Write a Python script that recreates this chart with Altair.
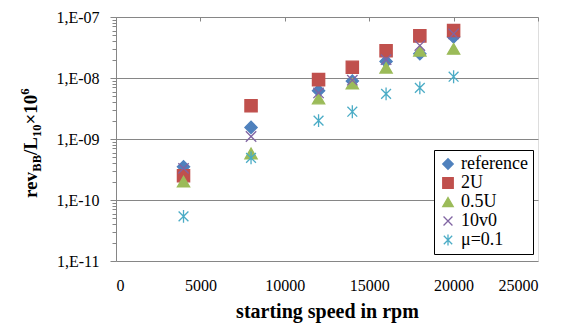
import altair as alt
import pandas as pd

speeds = [4000, 8000, 12000, 14000, 16000, 18000, 20000]
series_names = ["reference", "2U", "0.5U", "10v0", "μ=0.1"]
reference = [3.5e-10, 1.55e-9, 6.2e-9, 8.9e-9, 1.87e-8, 2.5e-8, 4.7e-8]
u2 = [2.5e-10, 3.5e-9, 9.4e-9, 1.5e-8, 2.8e-8, 4.9e-8, 6.0e-8]
u05 = [2.0e-10, 5.8e-10, 4.6e-9, 8.1e-9, 1.47e-8, 2.8e-8, 3.0e-8]
v10 = [3.3e-10, 1.1e-9, 5.7e-9, 9.2e-9, 2.0e-8, 3.4e-8, 5.3e-8]
mu01 = [5.4e-11, 4.9e-10, 2.0e-9, 2.8e-9, 5.5e-9, 6.9e-9, 1.05e-8]

x_ticks = [0, 5000, 10000, 15000, 20000, 25000]
y_decades = [1e-11, 1e-10, 1e-9, 1e-8, 1e-7]
y_minor_mult = [2, 3, 4, 5, 6, 7, 8, 9]

colors = ["#4F81BD", "#C0504D", "#9BBB59", "#8064A2", "#4BACC6"]
fills = ["#4F81BD", "#C0504D", "#9BBB59", "transparent", "transparent"]
shapes = ["diamond", "square", "triangle-up",
          "M-0.85,-0.85L0.85,0.85M0.85,-0.85L-0.85,0.85",
          "M-0.8,-0.8L0.8,0.8M0.8,-0.8L-0.8,0.8M0,-1.05L0,1.05"]

rows = []
for name, vals in zip(series_names, [reference, u2, u05, v10, mu01]):
    for s, v in zip(speeds, vals):
        rows.append({"speed": s, "value": v, "series": name})
df = pd.DataFrame(rows)

y_vals = []
for d in y_decades:
    y_vals.append(d)
    if d < 1e-7:
        y_vals += [d * m for m in y_minor_mult]

FONT = "Liberation Serif"
GRAY = "#868686"
major_test = "abs(log(datum.value)/LN10 - round(log(datum.value)/LN10)) < 0.001"

xscale = alt.Scale(domain=[0, 25000], nice=False, zero=False)
yscale = alt.Scale(type="log", domain=[1e-11, 1e-7], nice=False)

y_axis = alt.Axis(orient="left", values=y_vals, title=None,
                  domainColor=GRAY, tickColor=GRAY, gridColor=GRAY,
                  tickSize={"condition": {"test": major_test, "value": 6}, "value": 4},
                  gridOpacity={"condition": {"test": major_test, "value": 1}, "value": 0},
                  labelExpr="(" + major_test + ") ? ('1,E-' + (round(-log(datum.value)/LN10) < 10 ? '0' : '') + round(-log(datum.value)/LN10)) : ''",
                  labelFont=FONT, labelFontSize=16, labelColor="black",
                  labelPadding=11, labelBaseline="middle")

def leg():
    return alt.Legend(title=None, orient="none", legendX=318, legendY=133,
                      strokeColor="black", fillColor="white", padding=5, rowPadding=1,
                      labelFont=FONT, labelFontSize=18, labelColor="black",
                      symbolSize=110, symbolStrokeWidth=1.3, labelOffset=4, cornerRadius=0)

points = alt.Chart(df).mark_point(filled=False, opacity=1, size=150, strokeWidth=1.3).encode(
    x=alt.X("speed:Q", scale=xscale,
            axis=alt.Axis(orient="bottom", values=x_ticks, title="starting speed in rpm",
                          format="d", domain=False, ticks=False, tickSize=0, grid=False,
                          labelFont=FONT, labelFontSize=16, labelColor="black",
                          labelPadding=16, titleFont=FONT, titleFontSize=20,
                          titleFontWeight="bold", titleColor="black", titlePadding=8)),
    y=alt.Y("value:Q", scale=yscale, axis=y_axis),
    shape=alt.Shape("series:N", scale=alt.Scale(domain=series_names, range=shapes), legend=leg()),
    stroke=alt.Stroke("series:N", scale=alt.Scale(domain=series_names, range=colors), legend=leg()),
    fill=alt.Fill("series:N", scale=alt.Scale(domain=series_names, range=fills), legend=leg()),
)

top_axis = alt.Chart(df).mark_point(opacity=0).encode(
    x=alt.X("speed:Q", scale=xscale,
            axis=alt.Axis(orient="top", values=x_ticks, title=None, labels=False,
                          domain=False, grid=False, ticks=True, tickSize=4,
                          tickColor=GRAY, offset=-4)),
    y=alt.Y("value:Q", scale=yscale, axis=y_axis),
)

one = alt.Data(values=[{"a": 1}])
base_x = -79
start_y = 181
def piece(txt, size, dx, y):
    return alt.Chart(one).mark_text(text=txt, angle=270, align="left", baseline="alphabetic",
                                    font=FONT, fontWeight="bold", fontSize=size,
                                    color="black").encode(
        x=alt.value(base_x + dx), y=alt.value(y))

big = 19
small = 12.5
w_rev = 1.388 * big
w_bb = 1.334 * small
w_l = 0.945 * big
w_10 = 1.0 * small
w_x10 = 1.57 * big
y0 = start_y
y1 = y0 - w_rev
y2 = y1 - w_bb
y3 = y2 - w_l
y4 = y3 - w_10
y5 = y4 - w_x10
title_layers = [
    piece("rev", big, 0, y0),
    piece("BB", small, 4, y1),
    piece("/L", big, 0, y2),
    piece("10", small, 4, y3),
    piece("×10", big, 0, y4),
    piece("6", small, -8, y5),
]

chart = alt.layer(points, top_axis, *title_layers).resolve_axis(x="independent").properties(
    width=422, height=244,
    autosize=alt.AutoSizeParams(type="none"),
    padding={"left": 108, "top": 9, "right": 25, "bottom": 62},
).configure_view(stroke=None).configure(background="white", font=FONT).configure_axis(
    labelFont=FONT, titleFont=FONT
).configure_legend(labelFont=FONT)

chart.save("out.html", embed_options={"renderer": "svg", "actions": False})
